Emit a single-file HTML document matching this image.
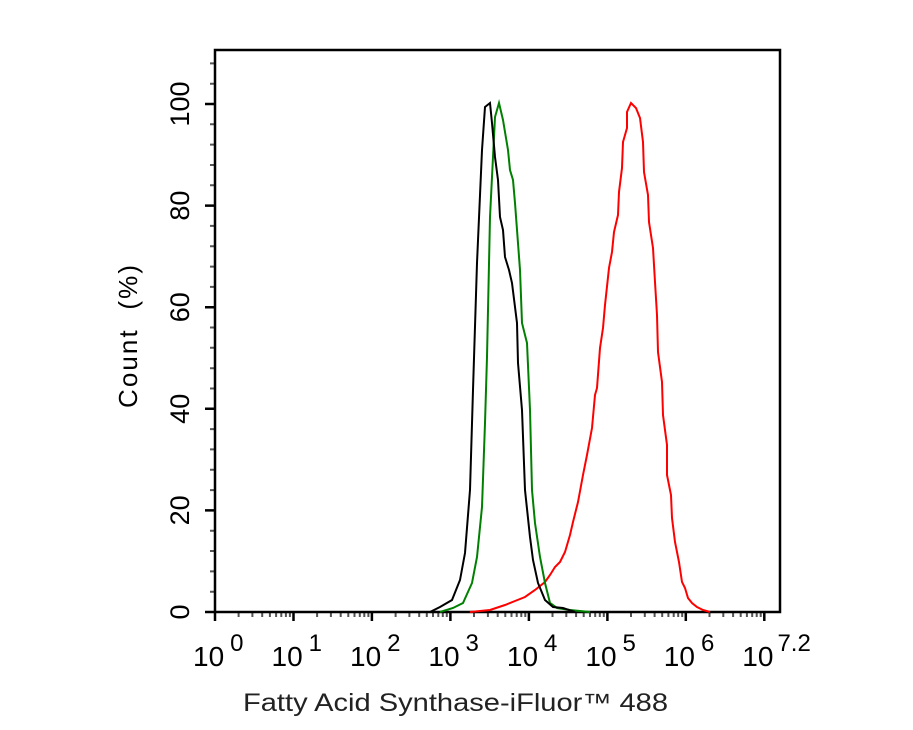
<!DOCTYPE html>
<html><head><meta charset="utf-8"><style>
body{margin:0;background:#fff;}
svg{display:block;font-family:"Liberation Sans",Arial,sans-serif;}
</style></head><body>
<svg width="913" height="730" viewBox="0 0 913 730" xmlns="http://www.w3.org/2000/svg">
<rect width="913" height="730" fill="#fff"/>
<g stroke="#000" fill="none">
<path stroke-width="2.5" d="M215 612v9M293.5 612v9M371.9 612v9M450.4 612v9M528.9 612v9M607.4 612v9M685.8 612v9M764.3 612v9M205 612h10M205 510.4h10M205 408.8h10M205 307.2h10M205 205.6h10M205 104h10"/>
<path stroke-width="2" stroke="#555" d="M238.6 612v5M252.4 612v5M262.2 612v5M269.9 612v5M276.1 612v5M281.3 612v5M285.9 612v5M289.9 612v5
M317.1 612v5M330.9 612v5M340.7 612v5M348.3 612v5M354.5 612v5M359.8 612v5M364.3 612v5M368.4 612v5
M395.6 612v5M409.4 612v5M419.2 612v5M426.8 612v5M433 612v5M438.3 612v5M442.8 612v5M446.8 612v5
M474 612v5M487.9 612v5M497.7 612v5M505.3 612v5M511.5 612v5M516.7 612v5M521.3 612v5M525.3 612v5
M552.5 612v5M566.3 612v5M576.1 612v5M583.7 612v5M590 612v5M595.2 612v5M599.8 612v5M603.8 612v5
M631 612v5M644.8 612v5M654.6 612v5M662.2 612v5M668.4 612v5M673.7 612v5M678.2 612v5M682.2 612v5
M709.5 612v5M723.3 612v5M733.1 612v5M740.7 612v5M746.9 612v5M752.2 612v5M756.7 612v5M760.7 612v5
M210 591.7h5M210 571.4h5M210 551h5M210 530.7h5M210 490.1h5M210 469.8h5M210 449.4h5M210 429.1h5M210 388.5h5M210 368.2h5M210 347.8h5M210 327.5h5M210 286.9h5M210 266.6h5M210 246.2h5M210 225.9h5M210 185.3h5M210 165h5M210 144.6h5M210 124.3h5M210 83.7h5M210 63.4h5"/>
</g>
<rect x="215" y="50" width="565" height="562" fill="none" stroke="#000" stroke-width="2.5"/>
<polyline fill="none" stroke="#ff0000" stroke-width="2" points="470,612 490,610 505,605 515,601 525,597 535,590 545,582 550,575 555,567 560,562 565,552 570,535 573,522 578,502 583,475 587,455 592,428 595,395 597,388 600,348 603,328 605,305 609,268 612,252 614,232 618,215 619,192 622,168 623,142 627,128 627,112 631,103 636,108 640,118 643,142 644,172 648,195 649,222 653,248 655,282 657,315 658,352 662,382 663,415 667,445 667,475 671,495 672,518 675,542 679,562 682,582 685,588 688,598 692,603 697,607 703,610 710,612"/>
<polyline fill="none" stroke="#008000" stroke-width="2" points="440,612 453,608 463,603 472,583 477,557 482,507 485,423 487,357 490,217 493,157 495,117 499,103 503,120 508,150 510,170 513,180 515,203 520,270 522,323 527,343 530,410 532,490 535,523 540,557 545,583 550,603 557,608 570,610 590,612"/>
<polyline fill="none" stroke="#000" stroke-width="2" points="430,612 440,607 452,600 460,580 465,553 470,490 473,390 477,263 482,150 485,107 490,103 492,123 495,157 498,180 500,217 503,230 505,257 509,270 512,283 517,323 518,363 522,410 525,490 530,537 533,560 538,583 545,600 553,607 563,608 575,612"/>
<g font-size="27" fill="#000" text-anchor="middle">
<text transform="translate(189,612) rotate(-90)">0</text>
<text transform="translate(189,510.4) rotate(-90)">20</text>
<text transform="translate(189,408.8) rotate(-90)">40</text>
<text transform="translate(189,307.2) rotate(-90)">60</text>
<text transform="translate(189,205.6) rotate(-90)">80</text>
<text transform="translate(189,104) rotate(-90)">100</text>
</g>
<text transform="translate(137,408) rotate(-90)" font-size="26" fill="#000" textLength="143" lengthAdjust="spacing" xml:space="preserve">Count  (%)</text>
<g font-size="28" fill="#000">
<text x="193" y="666">10<tspan dx="6" dy="-15" font-size="24">0</tspan></text>
<text x="271.5" y="666">10<tspan dx="6" dy="-15" font-size="24">1</tspan></text>
<text x="350" y="666">10<tspan dx="6" dy="-15" font-size="24">2</tspan></text>
<text x="428.4" y="666">10<tspan dx="6" dy="-15" font-size="24">3</tspan></text>
<text x="506.9" y="666">10<tspan dx="6" dy="-15" font-size="24">4</tspan></text>
<text x="585.4" y="666">10<tspan dx="6" dy="-15" font-size="24">5</tspan></text>
<text x="663.8" y="666">10<tspan dx="6" dy="-15" font-size="24">6</tspan></text>
<text x="742.3" y="666">10<tspan dx="4" dy="-15" font-size="24">7.2</tspan></text>
</g>
<text x="243" y="711" font-size="25" fill="#222" textLength="425" lengthAdjust="spacingAndGlyphs">Fatty Acid Synthase-iFluor™ 488</text>
</svg>
</body></html>
